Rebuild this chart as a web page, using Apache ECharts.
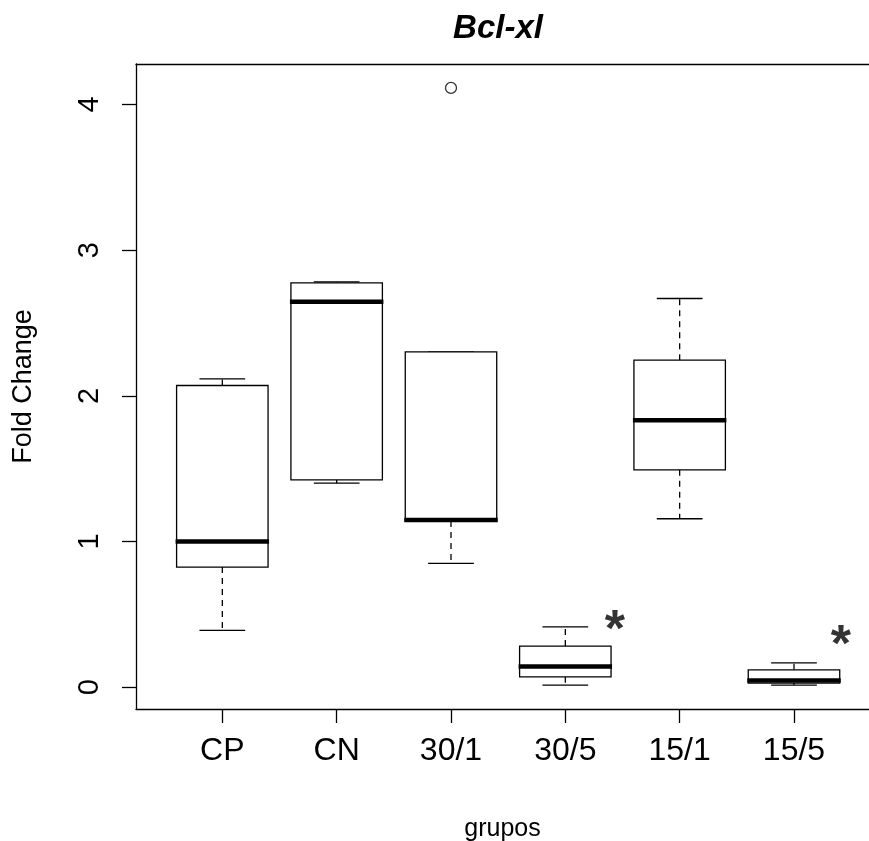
<!DOCTYPE html>
<html>
<head>
<meta charset="utf-8">
<script src="https://cdn.jsdelivr.net/npm/echarts@6/dist/echarts.min.js"></script>
<style>html,body{margin:0;padding:0;background:#fff}#c{width:869px;height:841px}</style>
</head>
<body>
<div id="c"></div>
<script>
// ---- data ----
const categories = ['CP', 'CN', '30/1', '30/5', '15/1', '15/5'];
const lowerWhisker = [0.39, 1.40, 0.85, 0.014, 1.156, 0.014];
const q1 = [0.824, 1.423, 1.14, 0.071, 1.492, 0.028];
const median = [1.0, 2.645, 1.147, 0.142, 1.833, 0.046];
const q3 = [2.071, 2.776, 2.302, 0.282, 2.245, 0.119];
const upperWhisker = [2.117, 2.782, 2.302, 0.414, 2.668, 0.167];
const outlierGroup = ['30/1'];
const outlierValue = [4.114];
const starX = [4.434, 6.411];
const starY = [0.449, 0.346];
const yTicks = [0, 1, 2, 3, 4];

const FONT = '"Liberation Sans", Arial, sans-serif';
const boxData = categories.map((c, i) => [i + 1, lowerWhisker[i], q1[i], median[i], q3[i], upperWhisker[i]]);
const outData = outlierGroup.map((g, i) => [categories.indexOf(g) + 1, outlierValue[i]]);
const starData = starX.map((x, i) => [x, starY[i]]);

const X_MIN = 0.245, X_MAX = 6.656;
const chart = echarts.init(document.getElementById('c'), null, {renderer: 'canvas'});
chart.setOption({
  animation: false,
  backgroundColor: '#fff',
  title: {
    text: 'Bcl-xl',
    left: 493, top: 7, textAlign: 'center',
    textStyle: {fontFamily: FONT, fontSize: 33, fontWeight: 'bold', fontStyle: 'italic', color: '#000'}
  },
  grid: {left: 136, top: 64, right: 0, height: 645, show: false, outerBoundsMode: 'none', containLabel: false},
  xAxis: [{
    type: 'value', min: X_MIN, max: X_MAX, position: 'bottom',
    name: 'grupos', nameLocation: 'middle', nameGap: 108,
    nameTextStyle: {fontFamily: FONT, fontSize: 25, color: '#000'},
    axisLine: {show: true, onZero: false, lineStyle: {color: '#000', width: 1.3}},
    axisTick: {show: true, length: 14, lineStyle: {color: '#000', width: 1.3}, customValues: [1, 2, 3, 4, 5, 6]},
    axisLabel: {
      customValues: [1, 2, 3, 4, 5, 6], margin: 26,
      formatter: v => categories[Math.round(v) - 1] || '',
      fontFamily: FONT, fontSize: 32, color: '#000'
    },
    splitLine: {show: false}
  }, {
    type: 'value', min: X_MIN, max: X_MAX, position: 'top',
    axisLine: {show: true, onZero: false, lineStyle: {color: '#000', width: 1.3}},
    axisTick: {show: false}, axisLabel: {show: false}, splitLine: {show: false}
  }],
  yAxis: {
    type: 'value', min: -0.150, max: 4.278,
    name: 'Fold Change', nameLocation: 'middle', nameGap: 99, nameRotate: 90,
    nameTextStyle: {fontFamily: FONT, fontSize: 27, color: '#000'},
    axisLine: {show: true, onZero: false, lineStyle: {color: '#000', width: 1.3}},
    axisTick: {show: true, length: 14, lineStyle: {color: '#000', width: 1.3}, customValues: yTicks},
    axisLabel: {customValues: yTicks, rotate: 90, margin: 32, fontFamily: FONT, fontSize: 29, color: '#000'},
    splitLine: {show: false}
  },
  series: [
    {
      type: 'custom',
      data: boxData,
      encode: {x: 0, y: [1, 2, 3, 4, 5]},
      renderItem: function (params, api) {
        const x = api.value(0);
        const pLW = api.coord([x, api.value(1)]);
        const pQ1 = api.coord([x, api.value(2)]);
        const pMed = api.coord([x, api.value(3)]);
        const pQ3 = api.coord([x, api.value(4)]);
        const pUW = api.coord([x, api.value(5)]);
        const half = api.size([0.4, 0])[0];
        const capHalf = api.size([0.2, 0])[0];
        const cx = pMed[0];
        const solid = {stroke: '#000', lineWidth: 1.3, fill: null};
        const dashed = {stroke: '#000', lineWidth: 1.3, lineDash: [6, 5], fill: null};
        return {
          type: 'group',
          children: [
            {type: 'line', shape: {x1: cx, y1: pQ3[1], x2: cx, y2: pUW[1]}, style: dashed},
            {type: 'line', shape: {x1: cx, y1: pQ1[1], x2: cx, y2: pLW[1]}, style: dashed},
            {type: 'line', shape: {x1: cx - capHalf, y1: pUW[1], x2: cx + capHalf, y2: pUW[1]}, style: solid},
            {type: 'line', shape: {x1: cx - capHalf, y1: pLW[1], x2: cx + capHalf, y2: pLW[1]}, style: solid},
            {type: 'rect', shape: {x: cx - half, y: pQ3[1], width: 2 * half, height: pQ1[1] - pQ3[1]},
              style: {stroke: '#000', lineWidth: 1.3, fill: '#fff'}},
            {type: 'line', shape: {x1: cx - half - 1, y1: pMed[1], x2: cx + half + 1, y2: pMed[1]},
              style: {stroke: '#000', lineWidth: 4.5}}
          ]
        };
      }
    },
    {
      type: 'scatter',
      data: outData,
      symbol: 'circle', symbolSize: 11,
      itemStyle: {color: '#fff', borderColor: '#000', borderWidth: 1.3}
    },
    {
      type: 'scatter',
      data: starData,
      symbolSize: 0,
      label: {
        show: true, position: 'inside', formatter: '*', offset: [0, 10],
        fontFamily: FONT, fontSize: 52, fontWeight: 'bold', color: '#000'
      }
    }
  ]
});
</script>
</body>
</html>
